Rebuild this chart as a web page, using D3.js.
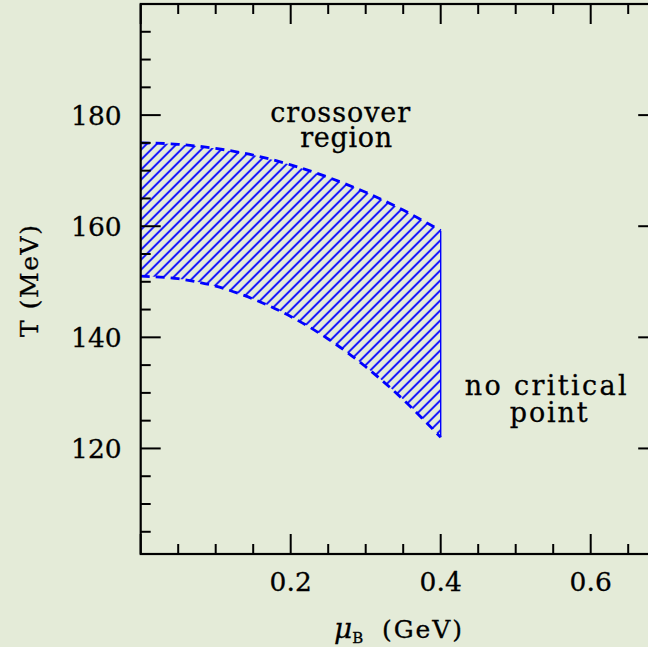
<!DOCTYPE html>
<html><head><meta charset="utf-8">
<script src="https://cdn.jsdelivr.net/npm/d3@7"></script>
<style>html,body{margin:0;padding:0;background:#e4ebd8;}svg{display:block;}svg text{stroke:#000;stroke-width:0.3px;}</style>
</head><body>
<script>
// ---- data ----
const muGrid = [0, 0.05, 0.1, 0.15, 0.2, 0.25, 0.3, 0.35, 0.4];
const tUpper = [175.0, 174.75, 174.0, 172.8, 171.05, 168.8, 166.1, 162.9, 159.2];
const tLower = [151.0, 150.55, 149.2, 146.9, 143.75, 139.7, 134.7, 128.8, 122.0];
const xMajor = [0, 0.2, 0.4, 0.6];
const xMinor = [0.05, 0.1, 0.15, 0.25, 0.3, 0.35, 0.45, 0.5, 0.55, 0.65];
const xTickLabels = ["0.2", "0.4", "0.6"];
const yMajor = [120, 140, 160, 180, 200];
const yMinor = [105, 110, 115, 125, 130, 135, 145, 150, 155, 165, 170, 175, 185, 190, 195];
const yTickLabels = ["120", "140", "160", "180"];
const annotations = [
  {text: "crossover", mu: 0.266, T: 178.7, len: 140},
  {text: "region", mu: 0.274, T: 174.2, len: 92},
  {text: "no critical", mu: 0.54, T: 129.6, len: 162},
  {text: "point", mu: 0.544, T: 124.7, len: 78}
];

const W = 648, H = 647;
const svg = d3.select("body").append("svg").attr("width", W).attr("height", H);
svg.append("rect").attr("width", W).attr("height", H).attr("fill", "#e4ebd8");

const x = d3.scaleLinear().domain([0, 0.69]).range([140.7, 658.2]);
const y = d3.scaleLinear().domain([101, 200]).range([554, 4]);

const defs = svg.append("defs");
const pat = defs.append("pattern").attr("id", "hatch").attr("patternUnits", "userSpaceOnUse")
  .attr("width", 10).attr("height", 10).attr("x", x(0)).attr("y", 0);
pat.append("path").attr("d", "M-1,1 l2,-2 M0,10 l10,-10 M9,11 l2,-2")
  .attr("stroke", "#0000ff").attr("stroke-width", 1.8).attr("fill", "none");

const band = muGrid.map((m, i) => ({mu: m, hi: tUpper[i], lo: tLower[i]}));
const area = d3.area().x(d => x(d.mu)).y0(d => y(d.lo)).y1(d => y(d.hi)).curve(d3.curveMonotoneX);
svg.append("path").datum(band).attr("d", area).attr("fill", "url(#hatch)");

const lineU = d3.line().x(d => x(d.mu)).y(d => y(d.hi)).curve(d3.curveMonotoneX);
const lineL = d3.line().x(d => x(d.mu)).y(d => y(d.lo)).curve(d3.curveMonotoneX);
[lineU, lineL].forEach(l => svg.append("path").datum(band).attr("d", l)
  .attr("fill", "none").attr("stroke", "#0000ff").attr("stroke-width", 2.8)
  .attr("stroke-dasharray", "9,6"));
const last = band[band.length - 1];
svg.append("line").attr("x1", x(last.mu)).attr("x2", x(last.mu))
  .attr("y1", y(last.lo)).attr("y2", y(last.hi))
  .attr("stroke", "#0000ff").attr("stroke-width", 1.4);

// ---- frame & ticks ----
const g = svg.append("g").attr("stroke", "#000").attr("fill", "none");
const [x0, x1] = x.domain(), [y0, y1] = y.domain();
g.append("rect").attr("x", x(x0)).attr("y", y(y1)).attr("width", x(x1) - x(x0))
  .attr("height", y(y0) - y(y1)).attr("stroke-width", 2.2);
function xt(v, len) {
  g.append("line").attr("x1", x(v)).attr("x2", x(v)).attr("y1", y(y0)).attr("y2", y(y0) - len).attr("stroke-width", 2);
  g.append("line").attr("x1", x(v)).attr("x2", x(v)).attr("y1", y(y1)).attr("y2", y(y1) + len).attr("stroke-width", 2);
}
function yt(v, len) {
  g.append("line").attr("x1", x(x0)).attr("x2", x(x0) + len).attr("y1", y(v)).attr("y2", y(v)).attr("stroke-width", 2);
  g.append("line").attr("x1", x(x1)).attr("x2", x(x1) - len).attr("y1", y(v)).attr("y2", y(v)).attr("stroke-width", 2);
}
xMajor.forEach(v => xt(v, 20)); xMinor.forEach(v => xt(v, 10));
yMajor.forEach(v => yt(v, 20)); yMinor.forEach(v => yt(v, 10));

const font = "DejaVu Serif";
xTickLabels.forEach(s => svg.append("text").attr("x", x(+s)).attr("y", 591)
  .attr("text-anchor", "middle").attr("font-family", font).attr("font-size", 26.5).text(s));
yTickLabels.forEach(s => svg.append("text").attr("x", 121.7).attr("y", y(+s) + 9.7)
  .attr("text-anchor", "end").attr("font-family", font).attr("font-size", 26.5).text(s));

annotations.forEach(a => svg.append("text").attr("x", x(a.mu)).attr("y", y(a.T))
  .attr("text-anchor", "middle").attr("font-family", font).attr("font-size", 27)
  .attr("textLength", a.len).attr("lengthAdjust", "spacing").text(a.text));

// axis titles
const xl = svg.append("text").attr("y", 638).attr("font-family", font).attr("font-size", 28);
xl.append("tspan").attr("x", 334).attr("font-style", "italic").text("μ");
xl.append("tspan").attr("font-size", 15).attr("dy", 5).text("B");
svg.append("text").attr("x", 382).attr("y", 638).attr("font-family", font).attr("font-size", 25)
  .attr("textLength", 80).attr("lengthAdjust", "spacing").text("(GeV)");
svg.append("text").attr("transform", "translate(37.5,281) rotate(-90)").attr("text-anchor", "middle")
  .attr("font-family", font).attr("font-size", 25).attr("textLength", 112)
  .attr("lengthAdjust", "spacing").text("T (MeV)");
</script>
</body></html>
